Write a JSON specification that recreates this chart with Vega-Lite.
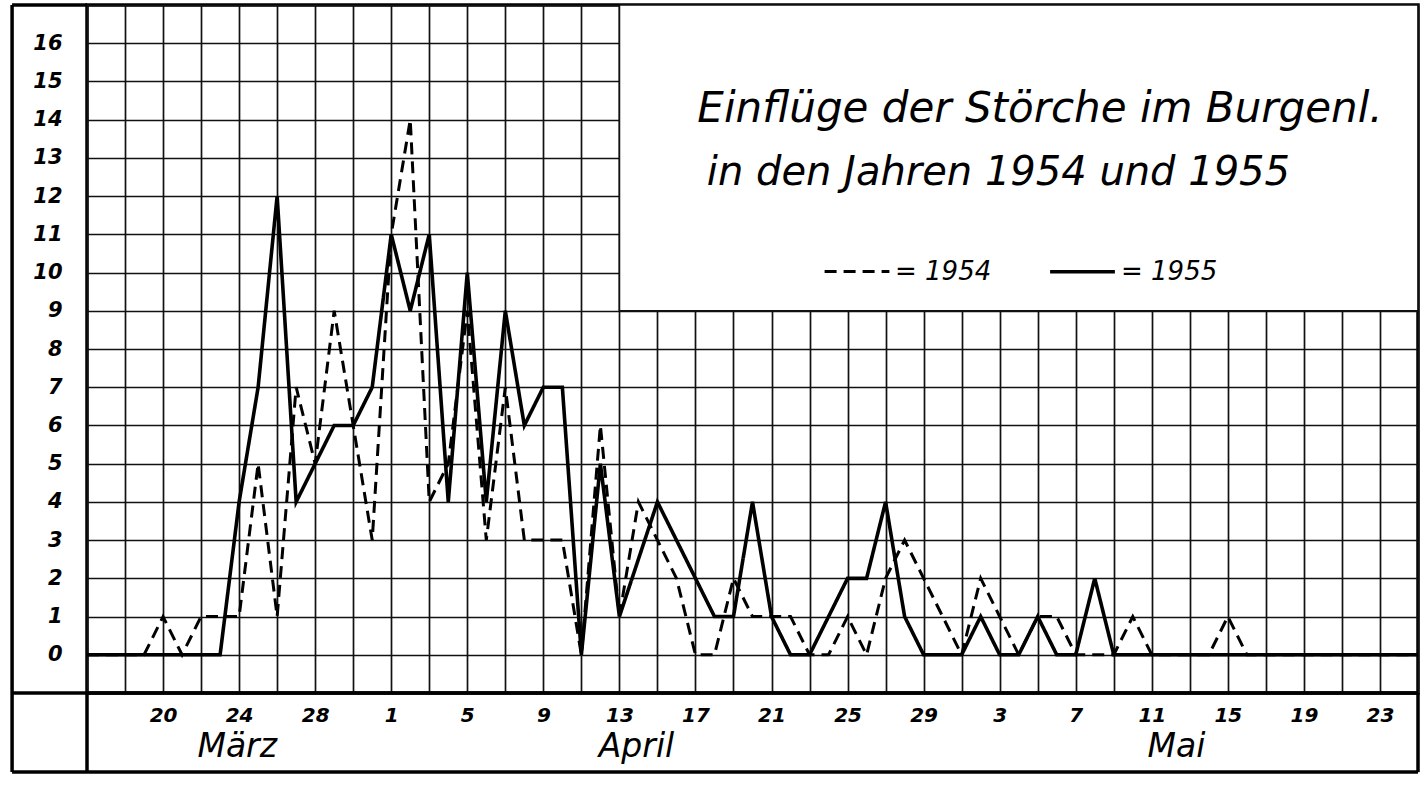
{
  "$schema": "https://vega.github.io/schema/vega-lite/v6.json",
  "width": 1331,
  "height": 688,
  "autosize": {"type": "none"},
  "padding": {"left": 87, "top": 5, "right": 9, "bottom": 92},
  "background": "white",
  "config": {
    "view": {"stroke": "black", "strokeWidth": 3.5},
    "axis": {
      "grid": true, "gridColor": "#111", "gridWidth": 1.7, "gridOpacity": 1,
      "domain": false, "ticks": false,
      "labelFont": "DejaVu Sans", "labelFontStyle": "italic", "labelFontWeight": "bold",
      "labelColor": "black", "labelOverlap": false, "labelFlush": false, "labelBound": false
    }
  },
  "datasets": {
    "counts": [
      {"d":16,"n":0,"j":"1954"},{"d":17,"n":0,"j":"1954"},{"d":18,"n":0,"j":"1954"},{"d":19,"n":0,"j":"1954"},
      {"d":20,"n":1,"j":"1954"},{"d":21,"n":0,"j":"1954"},{"d":22,"n":1,"j":"1954"},{"d":23,"n":1,"j":"1954"},
      {"d":24,"n":1,"j":"1954"},{"d":25,"n":5,"j":"1954"},{"d":26,"n":1,"j":"1954"},{"d":27,"n":7,"j":"1954"},
      {"d":28,"n":5,"j":"1954"},{"d":29,"n":9,"j":"1954"},{"d":30,"n":6,"j":"1954"},{"d":31,"n":3,"j":"1954"},
      {"d":32,"n":11,"j":"1954"},{"d":33,"n":14,"j":"1954"},{"d":34,"n":4,"j":"1954"},{"d":35,"n":5,"j":"1954"},
      {"d":36,"n":9,"j":"1954"},{"d":37,"n":3,"j":"1954"},{"d":38,"n":7,"j":"1954"},{"d":39,"n":3,"j":"1954"},
      {"d":40,"n":3,"j":"1954"},{"d":41,"n":3,"j":"1954"},{"d":42,"n":0,"j":"1954"},{"d":43,"n":6,"j":"1954"},
      {"d":44,"n":1,"j":"1954"},{"d":45,"n":4,"j":"1954"},{"d":46,"n":3,"j":"1954"},{"d":47,"n":2,"j":"1954"},
      {"d":48,"n":0,"j":"1954"},{"d":49,"n":0,"j":"1954"},{"d":50,"n":2,"j":"1954"},{"d":51,"n":1,"j":"1954"},
      {"d":52,"n":1,"j":"1954"},{"d":53,"n":1,"j":"1954"},{"d":54,"n":0,"j":"1954"},{"d":55,"n":0,"j":"1954"},
      {"d":56,"n":1,"j":"1954"},{"d":57,"n":0,"j":"1954"},{"d":58,"n":2,"j":"1954"},{"d":59,"n":3,"j":"1954"},
      {"d":60,"n":2,"j":"1954"},{"d":61,"n":1,"j":"1954"},{"d":62,"n":0,"j":"1954"},{"d":63,"n":2,"j":"1954"},
      {"d":64,"n":1,"j":"1954"},{"d":65,"n":0,"j":"1954"},{"d":66,"n":1,"j":"1954"},{"d":67,"n":1,"j":"1954"},
      {"d":68,"n":0,"j":"1954"},{"d":69,"n":0,"j":"1954"},{"d":70,"n":0,"j":"1954"},{"d":71,"n":1,"j":"1954"},
      {"d":72,"n":0,"j":"1954"},{"d":73,"n":0,"j":"1954"},{"d":74,"n":0,"j":"1954"},{"d":75,"n":0,"j":"1954"},
      {"d":76,"n":1,"j":"1954"},{"d":77,"n":0,"j":"1954"},{"d":78,"n":0,"j":"1954"},{"d":79,"n":0,"j":"1954"},
      {"d":80,"n":0,"j":"1954"},{"d":81,"n":0,"j":"1954"},{"d":82,"n":0,"j":"1954"},{"d":83,"n":0,"j":"1954"},
      {"d":84,"n":0,"j":"1954"},{"d":85,"n":0,"j":"1954"},{"d":86,"n":0,"j":"1954"},

      {"d":16,"n":0,"j":"1955"},{"d":17,"n":0,"j":"1955"},{"d":18,"n":0,"j":"1955"},{"d":19,"n":0,"j":"1955"},
      {"d":20,"n":0,"j":"1955"},{"d":21,"n":0,"j":"1955"},{"d":22,"n":0,"j":"1955"},{"d":23,"n":0,"j":"1955"},
      {"d":24,"n":4,"j":"1955"},{"d":25,"n":7,"j":"1955"},{"d":26,"n":12,"j":"1955"},{"d":27,"n":4,"j":"1955"},
      {"d":28,"n":5,"j":"1955"},{"d":29,"n":6,"j":"1955"},{"d":30,"n":6,"j":"1955"},{"d":31,"n":7,"j":"1955"},
      {"d":32,"n":11,"j":"1955"},{"d":33,"n":9,"j":"1955"},{"d":34,"n":11,"j":"1955"},{"d":35,"n":4,"j":"1955"},
      {"d":36,"n":10,"j":"1955"},{"d":37,"n":4,"j":"1955"},{"d":38,"n":9,"j":"1955"},{"d":39,"n":6,"j":"1955"},
      {"d":40,"n":7,"j":"1955"},{"d":41,"n":7,"j":"1955"},{"d":42,"n":0,"j":"1955"},{"d":43,"n":5,"j":"1955"},
      {"d":44,"n":1,"j":"1955"},{"d":46,"n":4,"j":"1955"},{"d":47,"n":3,"j":"1955"},
      {"d":48,"n":2,"j":"1955"},{"d":49,"n":1,"j":"1955"},{"d":50,"n":1,"j":"1955"},{"d":51,"n":4,"j":"1955"},
      {"d":52,"n":1,"j":"1955"},{"d":53,"n":0,"j":"1955"},{"d":54,"n":0,"j":"1955"},{"d":55,"n":1,"j":"1955"},
      {"d":56,"n":2,"j":"1955"},{"d":57,"n":2,"j":"1955"},{"d":58,"n":4,"j":"1955"},{"d":59,"n":1,"j":"1955"},
      {"d":60,"n":0,"j":"1955"},{"d":61,"n":0,"j":"1955"},{"d":62,"n":0,"j":"1955"},{"d":63,"n":1,"j":"1955"},
      {"d":64,"n":0,"j":"1955"},{"d":65,"n":0,"j":"1955"},{"d":66,"n":1,"j":"1955"},{"d":67,"n":0,"j":"1955"},
      {"d":68,"n":0,"j":"1955"},{"d":69,"n":2,"j":"1955"},{"d":70,"n":0,"j":"1955"},{"d":71,"n":0,"j":"1955"},
      {"d":72,"n":0,"j":"1955"},{"d":73,"n":0,"j":"1955"},{"d":74,"n":0,"j":"1955"},{"d":75,"n":0,"j":"1955"},
      {"d":76,"n":0,"j":"1955"},{"d":77,"n":0,"j":"1955"},{"d":78,"n":0,"j":"1955"},{"d":79,"n":0,"j":"1955"},
      {"d":80,"n":0,"j":"1955"},{"d":81,"n":0,"j":"1955"},{"d":82,"n":0,"j":"1955"},{"d":83,"n":0,"j":"1955"},
      {"d":84,"n":0,"j":"1955"},{"d":85,"n":0,"j":"1955"},{"d":86,"n":0,"j":"1955"}
    ],
    "months": [
      {"m":"März","d":23.9},
      {"m":"April","d":44.9},
      {"m":"Mai","d":73.3}
    ],
    "one": [{"k": 1}]
  },
  "layer": [
    {
      "data": {"name": "one"},
      "mark": {"type": "rect", "fill": "white", "stroke": "#111", "strokeWidth": 1.7},
      "encoding": {
        "x": {"datum": 44, "type": "quantitative"},
        "x2": {"datum": 86},
        "y": {"datum": 9, "type": "quantitative"},
        "y2": {"datum": 17}
      }
    },
    {
      "data": {"name": "counts"},
      "mark": {"type": "line", "color": "black", "strokeJoin": "miter", "clip": true},
      "encoding": {
        "x": {
          "field": "d", "type": "quantitative",
          "scale": {"domain": [16, 86], "nice": false, "zero": false},
          "axis": {
            "title": null, "tickCount": 200,
            "values": [16,18,20,22,24,26,28,30,32,34,36,38,40,42,44,46,48,50,52,54,56,58,60,62,64,66,68,70,72,74,76,78,80,82,84,86],
            "labelExpr": "(datum.value >= 20 && datum.value <= 84 && (datum.value - 20) % 4 == 0) ? (datum.value <= 31 ? datum.value : (datum.value <= 61 ? datum.value - 31 : datum.value - 61)) : ''",
            "labelFontSize": 20, "labelPadding": 12
          }
        },
        "y": {
          "field": "n", "type": "quantitative",
          "scale": {"domain": [-1, 17], "nice": false, "zero": false},
          "axis": {
            "title": null, "tickCount": 200,
            "values": [-1,0,1,2,3,4,5,6,7,8,9,10,11,12,13,14,15,16,17],
            "labelExpr": "(datum.value >= 0 && datum.value <= 16) ? datum.value : ''",
            "labelFontSize": 21, "labelPadding": 25
          }
        },
        "strokeWidth": {
          "field": "j", "type": "nominal",
          "scale": {"domain": ["1954", "1955"], "range": [3, 3.6]},
          "legend": null
        },
        "strokeDash": {
          "field": "j", "type": "nominal",
          "scale": {"domain": ["1954", "1955"], "range": [[12, 7], [1, 0]]},
          "legend": {
            "orient": "none", "legendX": 736, "legendY": 232,
            "direction": "horizontal", "title": null,
            "symbolType": "stroke", "symbolSize": 4200, "symbolStrokeWidth": 3,
            "symbolStrokeColor": "black",
            "labelExpr": "'= ' + datum.label",
            "labelFont": "DejaVu Sans", "labelFontStyle": "italic", "labelFontSize": 26,
            "labelColor": "black", "columnPadding": 50, "labelOffset": 4
          }
        }
      }
    },
    {
      "data": {"name": "one"},
      "mark": {"type": "text", "align": "left", "baseline": "alphabetic", "font": "DejaVu Sans", "fontStyle": "italic", "fontSize": 42, "color": "black"},
      "encoding": {
        "x": {"datum": 48.1, "type": "quantitative"},
        "y": {"datum": 13.94, "type": "quantitative"},
        "text": {"value": "Einflüge  der Störche im Burgenl."}
      }
    },
    {
      "data": {"name": "one"},
      "mark": {"type": "text", "align": "left", "baseline": "alphabetic", "font": "DejaVu Sans", "fontStyle": "italic", "fontSize": 40, "color": "black"},
      "encoding": {
        "x": {"datum": 48.6, "type": "quantitative"},
        "y": {"datum": 12.29, "type": "quantitative"},
        "text": {"value": "in den Jahren 1954 und 1955"}
      }
    },
    {
      "data": {"name": "months"},
      "mark": {"type": "text", "align": "center", "baseline": "alphabetic", "font": "DejaVu Sans", "fontStyle": "italic", "fontSize": 33, "color": "black"},
      "encoding": {
        "x": {"field": "d", "type": "quantitative"},
        "y": {"datum": -2.67, "type": "quantitative"},
        "text": {"field": "m"}
      }
    },
    {
      "data": {"name": "one"},
      "mark": {"type": "rule", "color": "black", "strokeWidth": 3.5},
      "encoding": {
        "x": {"datum": 12.06, "type": "quantitative"},
        "y": {"datum": 17, "type": "quantitative"},
        "y2": {"datum": -3.07}
      }
    },
    {
      "data": {"name": "one"},
      "mark": {"type": "rule", "color": "black", "strokeWidth": 3.5},
      "encoding": {
        "x": {"datum": 12.06, "type": "quantitative"},
        "x2": {"datum": 86},
        "y": {"datum": -3.07, "type": "quantitative"}
      }
    },
    {
      "data": {"name": "one"},
      "mark": {"type": "rule", "color": "black", "strokeWidth": 3.5},
      "encoding": {
        "x": {"datum": 12.06, "type": "quantitative"},
        "x2": {"datum": 16},
        "y": {"datum": 17, "type": "quantitative"}
      }
    },
    {
      "data": {"name": "one"},
      "mark": {"type": "rule", "color": "black", "strokeWidth": 3.5},
      "encoding": {
        "x": {"datum": 12.06, "type": "quantitative"},
        "x2": {"datum": 86},
        "y": {"datum": -1, "type": "quantitative"}
      }
    },
    {
      "data": {"name": "one"},
      "mark": {"type": "rule", "color": "black", "strokeWidth": 3.5},
      "encoding": {
        "x": {"datum": 16, "type": "quantitative"},
        "y": {"datum": -1, "type": "quantitative"},
        "y2": {"datum": -3.07}
      }
    },
    {
      "data": {"name": "one"},
      "mark": {"type": "rule", "color": "black", "strokeWidth": 3.5},
      "encoding": {
        "x": {"datum": 86, "type": "quantitative"},
        "y": {"datum": -1, "type": "quantitative"},
        "y2": {"datum": -3.07}
      }
    }
  ]
}
